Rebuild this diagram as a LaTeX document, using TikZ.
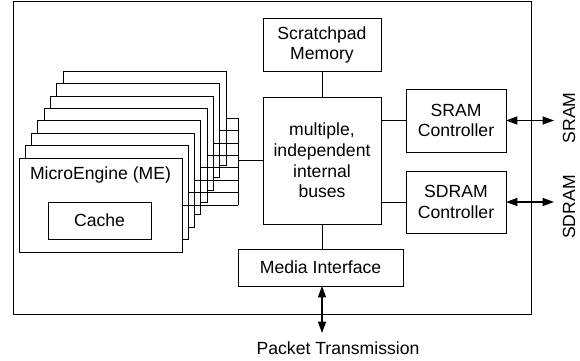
\documentclass[tikz,border=0pt]{standalone}
\usepackage{fontspec}
\setmainfont{Liberation Sans}
\usetikzlibrary{arrows.meta}
\begin{document}
\begin{tikzpicture}[x=0.75pt,y=-0.75pt,
  every node/.style={font=\fontsize{13.2}{15.4}\selectfont},
  box/.style={draw=black,line width=0.75pt,fill=white,inner sep=0pt,outer sep=0pt,align=center},
  wire/.style={line width=0.75pt},
  biarrow/.style={line width=0.9pt,{Triangle[length=8.5pt,width=6pt]}-{Triangle[length=8.5pt,width=6pt]}}
]
\useasboundingbox (0,0) rectangle (580,360);
% outer chip
\node[box,fill=none,minimum width=388.5pt,minimum height=234pt] (chip) at (272,158) {};
% ME stack, back to front
\coordinate (bustop) at (238,118);
\coordinate (busbot) at (238,205);
\foreach \i in {7,6,...,0}{
  \node[box,minimum width=122.25pt,minimum height=70.5pt] (me\i) at ({100.5+6.3*\i},{205-12.4*\i}) {};
  \draw[wire] (me\i.east) -- (me\i.east -| bustop);
}
\draw[wire] (bustop) -- (busbot);
\node (metext) at (100.5,175) {MicroEngine (ME)};
\node[box,minimum width=77.25pt,minimum height=27.75pt] (cache) at (99.5,220.5) {Cache};
% central blocks
\node[box,minimum width=88.5pt,minimum height=39pt] (scratch) at (322,45) {Scratchpad\\Memory};
\node[box,minimum width=88.5pt,minimum height=95.25pt] (bus) at (322,160.5) {multiple,\\independent\\internal\\buses};
\node[box,minimum width=75pt,minimum height=47.25pt] (sram) at (456,120.5) {SRAM\\Controller};
\node[box,minimum width=75pt,minimum height=46.5pt] (sdram) at (456,202) {SDRAM\\Controller};
\node[box,minimum width=123.75pt,minimum height=27.75pt] (media) at (320.5,267.5) {Media Interface};
% connectors
\coordinate (busjoin) at (238,160.5);
\draw[wire] (busjoin) -- (bus.west);
\draw[wire] (scratch.south) -- (bus.north);
\draw[wire] (bus.south) -- (bus.south |- media.north);
\draw[wire] (sram.west) -- (sram.west -| bus.east);
\draw[wire] (sdram.west) -- (sdram.west -| bus.east);
% external arrows
\coordinate (sramend) at (554,120.5);
\coordinate (sdramend) at (554,202);
\coordinate (pktend) at (322,333);
\draw[biarrow] (sram.east) -- (sramend);
\draw[biarrow] (sdram.east) -- (sdramend);
\draw[biarrow] (bus.south |- media.south) -- (pktend);
\node[rotate=90] (sramlbl) at (569,118) {SRAM};
\node[rotate=90] (sdramlbl) at (569,207) {SDRAM};
\node (pktlbl) at (338,348) {Packet Transmission};
\end{tikzpicture}
\end{document}
